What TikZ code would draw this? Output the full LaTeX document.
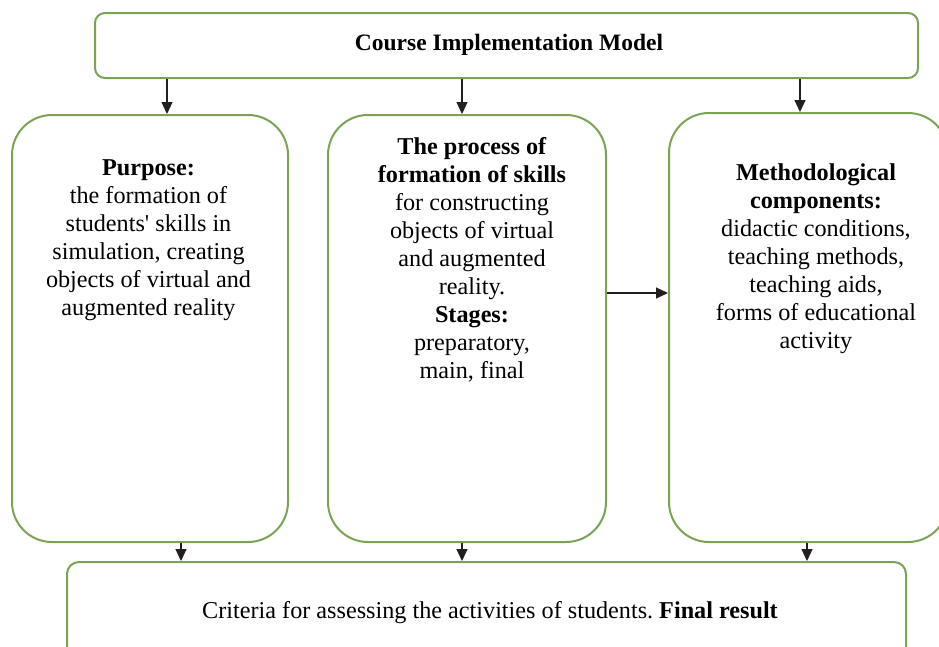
\documentclass[tikz,border=0pt]{standalone}
\usepackage{fontspec}
\setmainfont{Liberation Serif}
\usetikzlibrary{arrows.meta}
\definecolor{boxgreen}{RGB}{122,164,84}
\definecolor{arrcol}{RGB}{35,31,32}
\frenchspacing
\begin{document}
\begin{tikzpicture}[x=1pt,y=-1pt,
  box/.style={draw=boxgreen, line width=2pt, rounded corners=#1, inner sep=0pt},
  txt/.style={align=center, font=\fontsize{24.2}{28}\selectfont, inner sep=0pt},
  conn/.style={draw=arrcol, line width=1.2pt, -{Triangle[length=12pt,width=11pt]}}]
\useasboundingbox (0,0) rectangle (939,646);
\clip (0,0) rectangle (939,646);
% boxes
\node[box=10pt, minimum width=823pt, minimum height=65pt] (top) at (506.5,45.5) {};
\node[box=40pt, minimum width=276pt, minimum height=427pt] (L) at (150,328.5) {};
\node[box=40pt, minimum width=278pt, minimum height=427pt] (M) at (467,328.5) {};
\node[box=40pt, minimum width=279pt, minimum height=429pt] (R) at (808.5,327.5) {};
\node[box=12pt, minimum width=839pt, minimum height=100pt] (B) at (486.5,612) {};
% texts
\node[txt, anchor=base, font=\fontsize{23.5}{28}\selectfont] (ttop) at (509,50) {\textbf{Course Implementation Model}};
\node[txt, anchor=north] (tL) at (148.5,159) {\textbf{Purpose:}\\the formation of\\students\textquotesingle{} skills in\\simulation, creating\\objects of virtual and\\augmented reality};
\node[txt, anchor=north] (tM) at (472,137) {\textbf{The process of}\\\textbf{formation of skills}\\for constructing\\objects of virtual\\and augmented\\reality.\\\textbf{Stages:}\\preparatory,\\main, final};
\node[txt, anchor=north] (tR) at (816,164) {\textbf{Methodological}\\\textbf{components:}\\didactic conditions,\\teaching methods,\\teaching aids,\\forms of educational\\activity};
\node[txt, anchor=base] (tB) at (490,618) {Criteria for assessing the activities of students. \textbf{Final result}};
% connector x positions
\coordinate (xa) at (167,0);
\coordinate (xb) at (462,0);
\coordinate (xc) at (800,0);
\coordinate (xd) at (181,0);
\coordinate (xe) at (462,0);
\coordinate (xf) at (807,0);
\coordinate (yh) at (0,293);
% connectors
\draw[conn] (top.south -| xa) -- (L.north -| xa);
\draw[conn] (top.south -| xb) -- (M.north -| xb);
\draw[conn] (top.south -| xc) -- (R.north -| xc);
\draw[conn] (L.south -| xd) -- (B.north -| xd);
\draw[conn] (M.south -| xe) -- (B.north -| xe);
\draw[conn] (R.south -| xf) -- (B.north -| xf);
\draw[conn] (M.east |- yh) -- (R.west |- yh);
\end{tikzpicture}
\end{document}
